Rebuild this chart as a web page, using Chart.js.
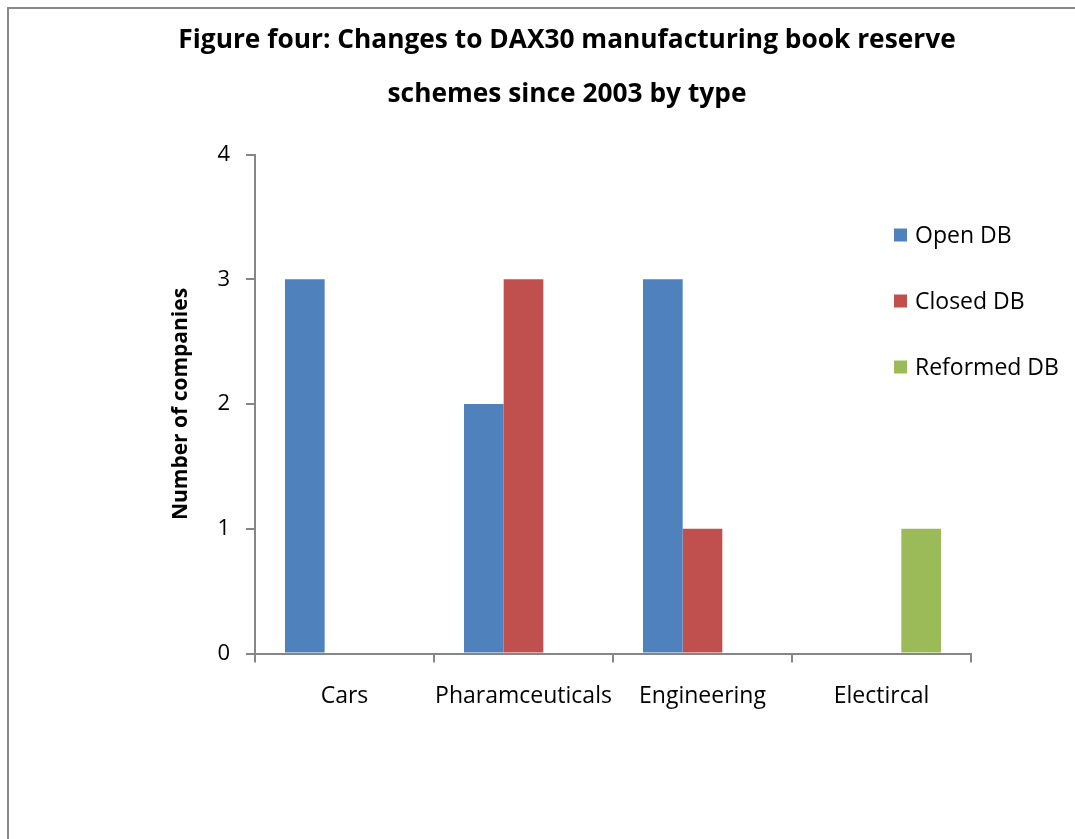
<!DOCTYPE html>
<html>
<head>
<meta charset="utf-8">
<title>DAX30 book reserve schemes</title>
<script src="https://cdn.jsdelivr.net/npm/chart.js@4"></script>
<style>
  html, body { margin: 0; padding: 0; background: #fff; }
  canvas { display: block; }
</style>
</head>
<body>
<canvas id="chart" width="1075" height="839"></canvas>
<script>
// Sectors and counts of schemes per change type
const sectors = ['Cars', 'Pharamceuticals', 'Engineering', 'Electircal'];
const openDB = [3, 2, 3, 0];
const closedDB = [0, 3, 1, 0];
const reformedDB = [0, 0, 0, 1];
const seriesNames = ['Open DB', 'Closed DB', 'Reformed DB'];
const seriesColors = ['#4F81BD', '#C0504D', '#9BBB59'];
const yTicks = [0, 1, 2, 3, 4];
const titleLines = ['Figure four: Changes to DAX30 manufacturing book reserve', 'schemes since 2003 by type'];
const yTitle = 'Number of companies';

const FONT = '"Open Sans", "DejaVu Sans", sans-serif';
const AXIS_GREY = '#868686';

// Thin grey frame around the chart area of the sheet
const framePlugin = {
  id: 'frame',
  beforeDraw(chart) {
    const ctx = chart.ctx;
    ctx.save();
    ctx.fillStyle = '#fff';
    ctx.fillRect(0, 0, chart.width, chart.height);
    ctx.strokeStyle = '#888888';
    ctx.lineWidth = 2;
    ctx.strokeRect(8, 8, chart.width + 20, chart.height + 20);
    ctx.restore();
  }
};

// Legend column on the right: square swatch followed by the series name
const sideLegend = {
  id: 'sideLegend',
  afterDraw(chart) {
    const ctx = chart.ctx;
    const area = chart.chartArea;
    const x = area.right - 77;
    const y0 = area.top + 80.5;
    const step = 66;
    const box = 13;
    ctx.save();
    ctx.font = '23px ' + FONT;
    ctx.textBaseline = 'middle';
    ctx.textAlign = 'left';
    chart.data.datasets.forEach((ds, i) => {
      const cy = y0 + i * step;
      ctx.fillStyle = ds.backgroundColor;
      ctx.fillRect(x, cy - box / 2, box, box);
      ctx.fillStyle = '#000';
      ctx.fillText(ds.label, x + 21, cy + 1);
    });
    ctx.restore();
  }
};

const seriesValues = [openDB, closedDB, reformedDB];

Chart.defaults.color = '#000';
Chart.defaults.font.family = FONT;

new Chart(document.getElementById('chart'), {
  type: 'bar',
  data: {
    labels: sectors,
    datasets: seriesValues.map((vals, i) => ({
      label: seriesNames[i],
      data: vals,
      backgroundColor: seriesColors[i],
      borderWidth: 0,
      categoryPercentage: 0.665,
      barPercentage: 1
    }))
  },
  options: {
    responsive: false,
    animation: false,
    devicePixelRatio: 1,
    layout: { padding: { left: 163, right: 104, top: 0, bottom: 0 } },
    plugins: {
      legend: { display: false },
      tooltip: { enabled: false },
      title: {
        display: true,
        text: titleLines,
        color: '#000',
        font: { family: FONT, size: 26.3, weight: 'bold', lineHeight: '54.5px' },
        padding: { top: 13, bottom: 32.5 }
      }
    },
    scales: {
      x: {
        grid: {
          display: true,
          offset: true,
          drawOnChartArea: false,
          drawTicks: true,
          tickLength: 9,
          color: AXIS_GREY,
          lineWidth: 2
        },
        border: { display: true, color: AXIS_GREY, width: 2 },
        ticks: { font: { size: 23 }, padding: 20, maxRotation: 0, autoSkip: false },
        afterFit(scale) { scale.height = 185.5; }
      },
      y: {
        min: yTicks[0],
        max: yTicks[yTicks.length - 1],
        afterBuildTicks(scale) { scale.ticks = yTicks.map(v => ({ value: v })); },
        grid: {
          display: true,
          drawOnChartArea: false,
          drawTicks: true,
          tickLength: 9,
          color: AXIS_GREY,
          lineWidth: 2
        },
        border: { display: true, color: AXIS_GREY, width: 2 },
        ticks: { font: { size: 22 }, padding: 16 },
        title: {
          display: true,
          text: yTitle,
          color: '#000',
          font: { size: 21, weight: 'bold' },
          padding: { top: 5.4, bottom: 0 }
        },
        afterFit(scale) { scale.width = 92; }
      }
    }
  },
  plugins: [framePlugin, sideLegend]
});
</script>
</body>
</html>
